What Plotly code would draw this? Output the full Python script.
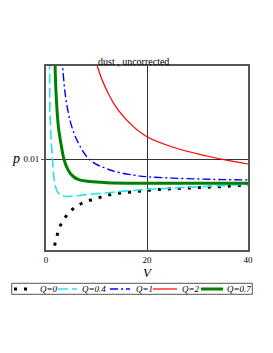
import plotly.graph_objects as go

# ---- data ----
V_q0 = [1.45, 1.64, 2.1, 2.6, 3.5, 4.7, 6.2, 7.9, 9.8, 11.7, 13.5, 15.5, 17.3, 19.3, 21.2,
        23.1, 25.0, 26.9, 28.9, 30.8, 32.8, 34.7, 36.6, 38.6, 40.0]
p_q0 = [0.0047, 0.00515, 0.00568, 0.0062, 0.00667, 0.00711, 0.00744, 0.00766, 0.00783,
        0.00798, 0.00809, 0.00816, 0.00821, 0.00827, 0.00832, 0.00834, 0.00838, 0.0084,
        0.00842, 0.00845, 0.00847, 0.00849, 0.00853, 0.00856, 0.00858]

V_q04 = [0.72, 0.8, 1.0, 1.3, 1.6, 2.1, 2.8, 3.8, 5, 7, 10, 15, 20, 25, 30, 35, 40]
p_q04 = [0.0155, 0.0125, 0.0112, 0.0099, 0.0089, 0.0083, 0.00805, 0.00795, 0.00796,
         0.00802, 0.0081, 0.00823, 0.00834, 0.00841, 0.00848, 0.00855, 0.00862]

V_q1 = [3.0, 3.3, 3.8, 4.4, 5.1, 6.4, 8.7, 12.7, 17.3, 20, 25, 30.5, 35, 40]
p_q1 = [0.0165, 0.0151, 0.0136, 0.0126, 0.0118, 0.0109, 0.00996, 0.00941, 0.00913,
        0.00904, 0.00896, 0.00891, 0.00888, 0.00886]

V_q2 = [9.6, 10.2, 12.3, 14.3, 17.3, 20, 25.2, 31.8, 36, 40]
p_q2 = [0.0160, 0.0151, 0.01364, 0.01271, 0.0118, 0.01124, 0.01066, 0.01018, 0.00994,
        0.00974]

V_q07 = [1.7, 1.8, 2.0, 2.45, 3.0, 3.6, 4.4, 5.4, 6.5, 8.7, 12, 20, 30, 40]
p_q07 = [0.0165, 0.0151, 0.0136, 0.0118, 0.0108, 0.00996, 0.0094, 0.00905, 0.00888,
         0.00877, 0.00871, 0.00868, 0.00868, 0.00868]

names = ["Q=0", "Q=0.4", "Q=1", "Q=2", "Q=0.7"]
x_ticks = [0, 20, 40]
y_ticks = [0.01]
y_tick_text = ["0.01"]

series = [(V_q0, p_q0), (V_q04, p_q04), (V_q1, p_q1), (V_q2, p_q2), (V_q07, p_q07)]
styles = [
    dict(color="black", width=3, dash="3px,7px"),
    dict(color="#22e6e6", width=1.6, dash="10px,4px"),
    dict(color="#0000ff", width=1.4, dash="8px,3px,2px,3px"),
    dict(color="#ff0000", width=1.2, dash="solid"),
    dict(color="#008000", width=3, dash="solid"),
]

SERIF = "Liberation Serif, Times New Roman, serif"

fig = go.Figure()
for (vx, py), nm, st in zip(series, names, styles):
    fig.add_trace(go.Scatter(x=vx, y=py, mode="lines", name=nm, line=st,
                             line_shape="spline", showlegend=False))

# page body has an 8px margin; plot area in window px: x 46..248, y 66..250
OFF = 8
W, H = 273 - OFF, 353 - OFF
PX0, PX1, PY0, PY1 = 46, 248, 66, 250
L, R = PX0 - OFF, W + OFF - PX1
T, B = PY0 - OFF, H + OFF - PY1
pw, ph = PX1 - PX0, PY1 - PY0


def px2paper_x(px):
    return (px - PX0) / pw


def px2paper_y(py):
    return (PY1 - py) / ph


fig.update_layout(
    width=W, height=H,
    margin=dict(l=L, r=R, t=T, b=B),
    paper_bgcolor="white", plot_bgcolor="white",
    font=dict(family=SERIF, size=9, color="black"),
    xaxis=dict(range=[0, 40], tickvals=x_ticks, ticktext=[str(t) for t in x_ticks],
               showgrid=True, gridcolor="#333333", gridwidth=1,
               showline=True, mirror=True, linecolor="#555555", linewidth=2,
               ticks="", zeroline=False, tickfont=dict(size=9),
               title=dict(text="<i>V</i>", font=dict(size=13), standoff=2)),
    yaxis=dict(range=[0.005, 0.01514], tickvals=y_ticks, ticktext=y_tick_text,
               showgrid=True, gridcolor="#333333", gridwidth=1,
               showline=True, mirror=True, linecolor="#555555", linewidth=2,
               ticks="outside", ticklen=3, tickcolor="#555555",
               zeroline=False, tickfont=dict(size=9)),
)

annotations = [
    dict(text="dust , uncorrected", xref="paper", yref="paper",
         x=px2paper_x(133), y=px2paper_y(61.5), xanchor="center", yanchor="middle",
         showarrow=False, font=dict(size=10, family=SERIF)),
    dict(text="<i>p</i>", xref="paper", yref="paper",
         x=px2paper_x(16), y=px2paper_y(158), xanchor="center", yanchor="middle",
         showarrow=False, font=dict(size=14, family=SERIF)),
]

# custom single-row legend
shapes = [dict(type="rect", xref="paper", yref="paper",
               x0=px2paper_x(11.7), x1=px2paper_x(252.3),
               y0=px2paper_y(283.3), y1=px2paper_y(294.3),
               line=dict(color="#555555", width=1), fillcolor="white")]
leg_line = [(14, 34), (58, 77), (110, 130), (153, 177), (201, 223)]
leg_text = [38, 80, 134, 180, 225]
ly = px2paper_y(289)
for (a, b), tx, nm, st in zip(leg_line, leg_text, names, styles):
    shapes.append(dict(type="line", xref="paper", yref="paper",
                       x0=px2paper_x(a), x1=px2paper_x(b), y0=ly, y1=ly,
                       line=dict(color=st["color"], width=st["width"], dash=st["dash"])))
    annotations.append(dict(text="<i>" + nm + "</i>", xref="paper", yref="paper",
                            x=px2paper_x(tx), y=ly, xanchor="left", yanchor="middle",
                            showarrow=False, font=dict(size=9, family=SERIF)))

fig.update_layout(annotations=annotations, shapes=shapes)
fig.write_html("out.html")
